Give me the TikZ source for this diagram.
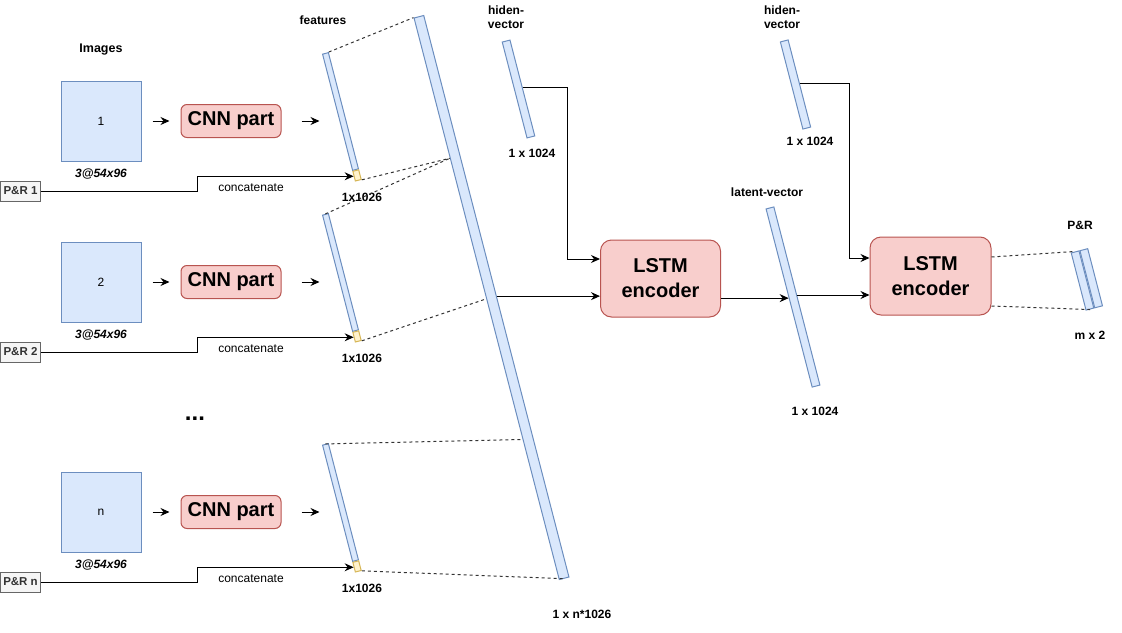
\documentclass[tikz,border=0pt]{standalone}
\usepackage{fontspec}
\setmainfont{Liberation Sans}
\usetikzlibrary{arrows.meta,calc}

\definecolor{blueFill}{HTML}{DAE8FC}
\definecolor{blueLine}{HTML}{6C8EBF}
\definecolor{redFill}{HTML}{F8CECC}
\definecolor{redLine}{HTML}{B85450}
\definecolor{yellowFill}{HTML}{FFF2CC}
\definecolor{yellowLine}{HTML}{D6B656}
\definecolor{grayFill}{HTML}{F5F5F5}
\definecolor{grayLine}{HTML}{666666}
\definecolor{grayText}{HTML}{333333}

\begin{document}
\begin{tikzpicture}[x=1pt,y=-1pt,
  vecbar/.style={draw=blueLine,fill=blueFill,line width=1pt,inner sep=0pt,rotate=14.5},
  bit/.style={draw=yellowLine,fill=yellowFill,line width=1pt,inner sep=0pt,rotate=14.5,minimum width=6pt,minimum height=10pt},
  img/.style={draw=blueLine,fill=blueFill,line width=1pt,minimum size=80pt,font=\fontsize{12}{14}\selectfont},
  cnn/.style={draw=redLine,fill=redFill,line width=1pt,rounded corners=6pt,minimum width=100pt,minimum height=33pt,font=\fontsize{20}{25}\selectfont\bfseries},
  lstm/.style={draw=redLine,fill=redFill,line width=1pt,rounded corners=11pt,align=center,font=\fontsize{20}{25}\selectfont\bfseries},
  pr/.style={draw=grayLine,fill=grayFill,line width=1pt,text=grayText,inner sep=0pt,minimum width=40pt,minimum height=20pt,font=\fontsize{11.5}{14}\selectfont\bfseries},
  lbl/.style={inner sep=0pt,align=center,font=\fontsize{12}{14}\selectfont\bfseries},
  txt/.style={inner sep=0pt,font=\fontsize{12}{14}\selectfont},
  arr/.style={-{Stealth[length=9pt,width=8pt,inset=3pt]},line width=1pt},
  cutline/.style={black!80,line width=1pt,dash pattern=on 3pt off 3pt}]
  \useasboundingbox (0,0) rectangle (1122,632);
  \def\inputrow#1#2{
    \node[img] (img#1) at (101,#2) {#1};
    \node[lbl,font=\fontsize{12}{14}\selectfont\bfseries\itshape] (size#1) at (101,#2+53) {3@54x96};
    \node[cnn] (cnn#1) at (231,#2) {CNN part};
    \node[vecbar,minimum width=6pt,minimum height=120pt] (f#1) at (340.5,#2-9.5) {};
    \node[bit,anchor=north] (bit#1) at (f#1.south) {};
    \node[pr] (pr#1) at (20.5,#2+70) {P\&R #1};
    \node[lbl] (dim#1) at (362,#2+76) {1x1026};
    \node[txt] (cc#1) at (251,#2+67) {concatenate};
    \draw[arr] ([xshift=11pt]img#1.east) -- ([xshift=-11pt]cnn#1.west);
    \draw[arr] ([xshift=20pt]cnn#1.east) -- ++(18,0);
    \draw[arr] (pr#1.east) -- ++(156.5,0) |- (bit#1.west);
  }

  %%% inputs
  \node[lbl,font=\fontsize{12.5}{14}\selectfont\bfseries] (imglbl) at (101,50) {Images};
  \node[lbl] (featlbl) at (323,20) {features};
  \inputrow{1}{121}
  \inputrow{2}{282}
  \inputrow{n}{512}
  \node[lbl,font=\fontsize{24}{28}\selectfont\bfseries,anchor=base] (dots) at (195,420) {...};

  %%% concatenated features
  \node[vecbar,minimum width=10pt,minimum height=580pt] (allfeat) at (491.5,297.5) {};
  \node[lbl] (alllbl) at (582,614) {1 x n*1026};
  \coordinate (cut1) at ($(allfeat.north west)!0.25!(allfeat.south west)$);
  \coordinate (cut2) at ($(allfeat.north west)!0.5!(allfeat.south west)$);
  \coordinate (cut3) at ($(allfeat.north west)!0.75!(allfeat.south west)$);
  \draw[cutline] (f1.north east) -- (allfeat.north west);
  \draw[cutline] (bit1.south east) -- (cut1);
  \draw[cutline] (f2.north) -- (cut1);
  \draw[cutline] (bit2.south east) -- (cut2);
  \draw[cutline] (fn.north) -- (cut3);
  \draw[cutline] (bitn.south east) -- (allfeat.south);

  %%% first LSTM
  \node[vecbar,minimum width=8pt,minimum height=99pt] (h1) at (518.5,89) {};
  \node[lbl] (h1lbl) at (506,17) {hiden-\\vector};
  \node[lbl] (h1dim) at (532,153) {1 x 1024};
  \node[lstm,minimum width=120pt,minimum height=77pt] (lstm1) at (660.5,278.5) {LSTM\\encoder};
  \draw[arr] (h1.east) -- ++(44.5,0) |- ([yshift=19.5pt]lstm1.west);
  \draw[arr] (allfeat.east) -- (allfeat.east -| lstm1.west);

  %%% latent vector
  \node[vecbar,minimum width=8pt,minimum height=184pt] (lat) at (793,297) {};
  \node[lbl] (latlbl) at (767,192) {latent-vector};
  \node[lbl] (latdim) at (815,411) {1 x 1024};
  \draw[arr] (lstm1.east |- lat.west) -- (lat.west);

  %%% second LSTM
  \node[vecbar,minimum width=8pt,minimum height=90pt] (h2) at (795.5,84.5) {};
  \node[lbl] (h2lbl) at (782,17) {hiden-\\vector};
  \node[lbl] (h2dim) at (810,141) {1 x 1024};
  \node[lstm,minimum width=121pt,minimum height=78pt] (lstm2) at (930.5,276) {LSTM\\encoder};
  \draw[arr] (h2.east) -- ++(50,0) |- ([yshift=18pt]lstm2.west);
  \draw[arr] (lat.east) -- ++(49,0) |- ([yshift=-19pt]lstm2.west);

  %%% output
  \node[vecbar,minimum width=8pt,minimum height=59pt] (out1) at (1082.5,280.5) {};
  \node[vecbar,minimum width=8pt,minimum height=59pt,anchor=west] (out2) at (out1.east) {};
  \node[lbl] (outlbl) at (1080,225) {P\&R};
  \node[lbl] (outdim) at (1090,335) {m x 2};
  \draw[cutline] ([yshift=19pt]lstm2.east) -- (out1.north);
  \draw[cutline] ([yshift=-30pt]lstm2.east) -- (out1.south);
\end{tikzpicture}
\end{document}
